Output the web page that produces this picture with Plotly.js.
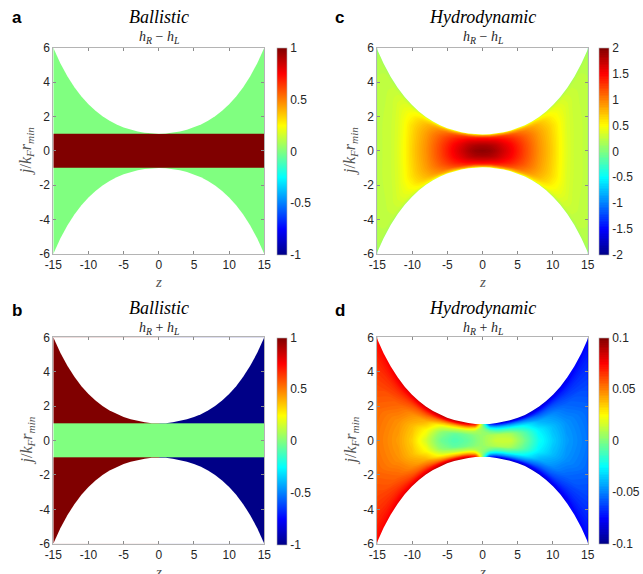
<!DOCTYPE html>
<html>
<head>
<meta charset="utf-8">
<script src="https://cdn.plot.ly/plotly-3.0.1.min.js"></script>
<style>html,body{margin:0;padding:0;background:#fff;}#chart{width:643px;height:574px;}</style>
</head>
<body>
<div id="chart"></div>
<script>
// ---------- data ----------
// channel wall: |j| = r(z) (read along the white boundary)
const wallZ = [-15,-14,-13,-12,-11,-10,-9,-8,-7,-6,-5,-4,-3,-2,-1,0,1,2,3,4,5,6,7,8,9,10,11,12,13,14,15];
const wallR = [6.00,5.10,4.34,3.70,3.16,2.71,2.33,2.01,1.75,1.53,1.36,1.23,1.13,1.06,1.01,1.00,1.01,1.06,1.13,1.23,1.36,1.53,1.75,2.01,2.33,2.71,3.16,3.70,4.34,5.10,6.00];

// ballistic panels (piecewise constant bricks)
const ballJEdges = [-6,-1,1,6];
const ballDiffZEdges = [-15,15];
const ballDiff = [[0],[1],[0]];
const ballSumZEdges = [-15,0,15];
const ballSum = [[1,-1],[0,0],[1,-1]];

// hydrodynamic panels, sampled along lines of constant s = j / r(z)
const sHalf = [0,0.3,0.55,0.75,0.88,0.95,1];
// h_R - h_L (symmetric in z and j): rows s in sHalf, cols z in diffZHalf
const diffZHalf = [0,1,2,4,6,8,10,11,12,13,15];
const hydroDiffQuarter = [
  [1.95,1.92,1.82,1.55,1.24,0.94,0.68,0.52,0.38,0.30,0.25],
  [1.85,1.83,1.75,1.50,1.21,0.92,0.66,0.51,0.37,0.30,0.25],
  [1.65,1.63,1.58,1.38,1.13,0.87,0.62,0.48,0.36,0.29,0.24],
  [1.40,1.38,1.35,1.20,1.00,0.78,0.52,0.42,0.34,0.28,0.23],
  [0.90,0.90,0.90,0.85,0.80,0.62,0.42,0.36,0.30,0.26,0.21],
  [0.50,0.50,0.50,0.50,0.48,0.42,0.32,0.27,0.24,0.21,0.18],
  [0.06,0.06,0.06,0.06,0.06,0.06,0.06,0.06,0.06,0.06,0.06]
];
// h_R + h_L (symmetric in j): rows s in sHalf, cols z in sumZ
const sumZ = [-15,-12,-10,-8,-6,-4,-2,-1,0,1,2,4,6,8,10,12,15];
const hydroSumHalf = [
  [0.052,0.044,0.034,0.016,-0.003,-0.010,-0.005,0.000,0.005,0.010,0.015,0.015,-0.002,-0.022,-0.034,-0.044,-0.052],
  [0.055,0.047,0.038,0.025,0.003,-0.006,-0.002,0.002,0.005,0.008,0.010,0.008,-0.008,-0.027,-0.038,-0.047,-0.055],
  [0.062,0.055,0.047,0.040,0.022,0.015,0.014,0.010,0.004,-0.004,-0.012,-0.015,-0.025,-0.040,-0.047,-0.055,-0.062],
  [0.068,0.065,0.060,0.058,0.050,0.045,0.045,0.035,0.003,-0.030,-0.042,-0.045,-0.050,-0.058,-0.060,-0.065,-0.068],
  [0.072,0.073,0.072,0.074,0.075,0.075,0.072,0.060,0.002,-0.055,-0.070,-0.072,-0.075,-0.074,-0.072,-0.073,-0.072],
  [0.074,0.078,0.080,0.082,0.085,0.085,0.083,0.070,0.001,-0.068,-0.082,-0.085,-0.085,-0.082,-0.080,-0.078,-0.074],
  [0.075,0.080,0.083,0.086,0.088,0.088,0.088,0.075,0.000,-0.075,-0.088,-0.088,-0.088,-0.086,-0.083,-0.080,-0.075]
];

const xTicks = [-15,-10,-5,0,5,10,15];
const yTicks = [-6,-4,-2,0,2,4,6];
const cbTicksBall = [-1,-0.5,0,0.5,1];
const cbTicksDiff = [-2,-1.5,-1,-0.5,0,0.5,1,1.5,2];
const cbTicksSum = [-0.1,-0.05,0,0.05,0.1];

// ---------- build ----------
const W = 643, H = 574;
const px = x => x / W, py = y => 1 - y / H;
const lbl = v => String(v).replace('\u2212', '-');

const jet = [[0,'rgb(0,0,135)'],[0.125,'rgb(0,0,255)'],[0.375,'rgb(0,255,255)'],
             [0.625,'rgb(255,255,0)'],[0.875,'rgb(255,0,0)'],[1,'rgb(128,0,0)']];

function mirrorAxis(a){ return a.slice(1).reverse().map(v => -v).concat(a); }
const sFull = mirrorAxis(sHalf);
const nS = sHalf.length;
const wallAt = z => wallR[wallZ.indexOf(Math.round(z))];

// c: full grid from the quarter
const diffZFull = mirrorAxis(diffZHalf);
const nZc = diffZHalf.length;
const diffMatrix = sFull.map((_, i) => diffZFull.map((_, k) =>
  hydroDiffQuarter[Math.abs(i - (nS - 1))][Math.abs(k - (nZc - 1))]));
// d: full grid from the upper half
const sumMatrix = sFull.map((_, i) => hydroSumHalf[Math.abs(i - (nS - 1))]);

function carpetXY(zs){
  return {
    x: sFull.map(() => zs.slice()),
    y: sFull.map(s => zs.map(z => s * wallAt(z)))
  };
}

const tickFont = {family:'Liberation Sans, Arial, sans-serif', size:12, color:'#262626'};

function colorbar(x0, yTop, yBot, vals){
  return {
    x: px(x0), xanchor:'left', xref:'paper', xpad:0,
    y: py((yTop + yBot) / 2), yanchor:'middle', ypad:0,
    len: (yBot - yTop) / H, lenmode:'fraction', thickness:10, thicknessmode:'pixels',
    outlinewidth:0.6, outlinecolor:'#b0b0b0',
    tickvals: vals, ticktext: vals.map(lbl),
    ticks:'', tickfont: tickFont
  };
}

function masks(xa, ya, edge){
  const mk = sign => ({
    type:'scatter', mode:'lines', xaxis:xa, yaxis:ya,
    x: wallZ.concat([15, -15]), y: wallR.map(v => sign * v).concat([sign * 7, sign * 7]),
    fill:'toself', fillcolor:'#ffffff', line:{width:edge, color:'#ffffff'},
    hoverinfo:'skip', showlegend:false
  });
  return [mk(1), mk(-1)];
}

const hiddenCarpetAxis = {showgrid:false, showline:false, showticklabels:'none', startline:false, endline:false,
  minorgridcount:0, gridcolor:'rgba(0,0,0,0)', linecolor:'rgba(0,0,0,0)', smoothing:1};

function hydroTraces(id, xa, ya, zs, matrix, zmin, zmax, nLevels, cb){
  const xy = carpetXY(zs);
  const aIdx = zs.slice();
  return [
    {type:'carpet', carpet:id, a:aIdx, b:sFull, x:xy.x, y:xy.y, xaxis:xa, yaxis:ya,
     aaxis:hiddenCarpetAxis, baxis:hiddenCarpetAxis, color:'rgba(0,0,0,0)'},
    {type:'contourcarpet', carpet:id, a:aIdx, b:sFull, z:matrix, xaxis:xa, yaxis:ya,
     autocontour:false, zauto:false, zmin:zmin, zmax:zmax,
     contours:{start:zmin, end:zmax, size:(zmax - zmin) / nLevels, coloring:'fill', showlines:false},
     line:{width:0}, colorscale:jet, colorbar:cb, hoverinfo:'skip'},
    ...masks(xa, ya, 1.6)
  ];
}

// panel geometry (pixels)
const P = {
  a: {x0:53.3, x1:264.3, y0:47.7, y1:254.0, cb:276.7},
  c: {x0:377.3, x1:587.7, y0:47.7, y1:254.0, cb:599.3},
  b: {x0:53.3, x1:264.3, y0:337.3, y1:543.7, cb:276.7},
  d: {x0:377.3, x1:587.7, y0:337.3, y1:543.7, cb:599.3}
};

const traces = [
  {type:'heatmap', x:ballDiffZEdges, y:ballJEdges, z:ballDiff, colorscale:jet, zmin:-1, zmax:1,
   xaxis:'x', yaxis:'y', colorbar: colorbar(P.a.cb, P.a.y0, P.a.y1+1, cbTicksBall), hoverinfo:'skip'},
  ...masks('x','y', 0),
  ...hydroTraces('cc', 'x2', 'y2', diffZFull, diffMatrix, -2, 2, 120, colorbar(P.c.cb, P.c.y0, P.c.y1+1, cbTicksDiff)),
  {type:'heatmap', x:ballSumZEdges, y:ballJEdges, z:ballSum, colorscale:jet, zmin:-1, zmax:1,
   xaxis:'x3', yaxis:'y3', colorbar: colorbar(P.b.cb, P.b.y0, P.b.y1+1, cbTicksBall), hoverinfo:'skip'},
  ...masks('x3','y3', 0),
  ...hydroTraces('dd', 'x4', 'y4', sumZ, sumMatrix, -0.1, 0.1, 120, colorbar(P.d.cb, P.d.y0, P.d.y1, cbTicksSum))
];

function xAxis(p, anchor){
  return {domain:[px(p.x0), px(p.x1)], anchor:anchor, range:[-15,15], tickvals:xTicks, ticktext:xTicks.map(lbl),
    ticks:'inside', ticklen:3, tickcolor:'#8c8c8c', showline:true, linecolor:'#b4b4b4', linewidth:1,
    mirror:'ticks', showgrid:false, zeroline:false, tickfont:tickFont, fixedrange:true};
}
function yAxis(p, anchor){
  return {domain:[py(p.y1), py(p.y0)], anchor:anchor, range:[-6,6], tickvals:yTicks, ticktext:yTicks.map(lbl),
    ticks:'inside', ticklen:3, tickcolor:'#8c8c8c', showline:true, linecolor:'#b4b4b4', linewidth:1,
    mirror:'ticks', showgrid:false, zeroline:false, tickfont:tickFont, fixedrange:true};
}

const serif = 'Liberation Serif, Times New Roman, serif';
const ann = [];
function label(t, x, y){ ann.push({text:'<b>'+t+'</b>', x:px(x), y:py(y), xref:'paper', yref:'paper',
  showarrow:false, xanchor:'center', yanchor:'middle', font:{family:'Liberation Sans, Arial, sans-serif', size:17, color:'#000'}}); }
function txt(t, x, y, size, color, angle){ ann.push({text:t, x:px(x), y:py(y), xref:'paper', yref:'paper',
  showarrow:false, xanchor:'center', yanchor:'middle', textangle:angle||0, font:{family:serif, size:size, color:color}}); }

const diffTxt = '<i>h</i><sub><i>R</i></sub> − <i>h</i><sub><i>L</i></sub>';
const sumTxt = '<i>h</i><sub><i>R</i></sub> + <i>h</i><sub><i>L</i></sub>';
const yTitle = '<i>j</i>/<i>k</i><sub><i>F</i></sub><i>r</i><sub><i>min</i></sub>';

label('a', 17, 18); label('c', 340, 18); label('b', 17, 310); label('d', 340, 310);
const cA = (P.a.x0 + P.a.x1) / 2, cC = (P.c.x0 + P.c.x1) / 2;
txt('<i>Ballistic</i>', cA, 17, 18, '#000');
txt(diffTxt, cA, 37, 14, '#262626');
txt('<i>Hydrodynamic</i>', cC, 17, 18, '#000');
txt(diffTxt, cC, 37, 14, '#262626');
txt('<i>Ballistic</i>', cA, 308, 18, '#000');
txt(sumTxt, cA, 328, 14, '#262626');
txt('<i>Hydrodynamic</i>', cC, 308, 18, '#000');
txt(sumTxt, cC, 328, 14, '#262626');
txt(yTitle, 27, 151, 16, '#555', -90);
txt(yTitle, 351, 151, 16, '#555', -90);
txt(yTitle, 27, 440.5, 16, '#555', -90);
txt(yTitle, 351, 440.5, 16, '#555', -90);
txt('<i>z</i>', cA, 282, 15, '#555');
txt('<i>z</i>', cC, 282, 15, '#555');
txt('<i>z</i>', cA, 572, 15, '#555');
txt('<i>z</i>', cC, 572, 15, '#555');

const layout = {
  width: W, height: H, margin:{l:0, r:0, t:0, b:0}, paper_bgcolor:'#fff', plot_bgcolor:'#fff',
  showlegend:false,
  xaxis: xAxis(P.a, 'y'), yaxis: yAxis(P.a, 'x'),
  xaxis2: xAxis(P.c, 'y2'), yaxis2: yAxis(P.c, 'x2'),
  xaxis3: xAxis(P.b, 'y3'), yaxis3: yAxis(P.b, 'x3'),
  xaxis4: xAxis(P.d, 'y4'), yaxis4: yAxis(P.d, 'x4'),
  annotations: ann
};

Plotly.newPlot('chart', traces, layout, {staticPlot:true, displayModeBar:false});
</script>
</body>
</html>
